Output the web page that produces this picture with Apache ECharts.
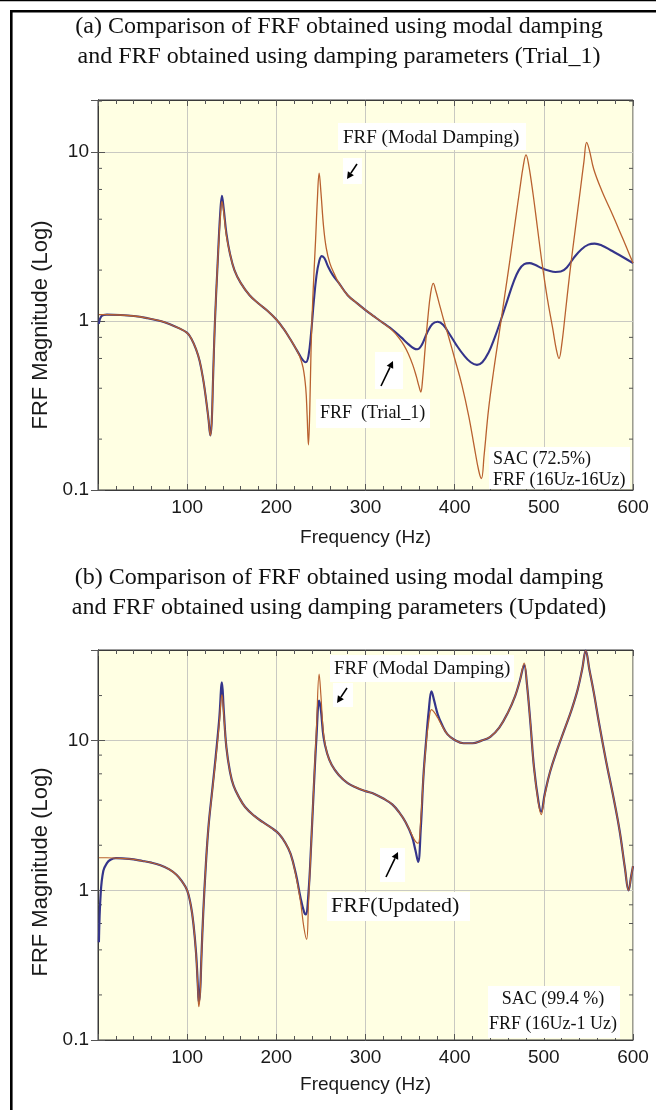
<!DOCTYPE html>
<html>
<head>
<meta charset="utf-8">
<title>FRF comparison</title>
<script src="https://cdn.jsdelivr.net/npm/echarts@6/dist/echarts.min.js"></script>
<style>
  html, body { margin: 0; padding: 0; background: #ffffff; }
  #chart { width: 656px; height: 1110px; }
</style>
</head>
<body>
<div id="chart"></div>
<script>
// ---- Data: FRF magnitude vs frequency (Hz) ----
const xTicks = [100, 200, 300, 400, 500, 600];
const yMinorTicksA = [0.2, 0.4, 0.6, 0.8, 2, 4, 6, 8, 20];
const yMinorTicksB = [0.2, 0.4, 0.6, 0.8, 2, 4, 6, 8, 20];

// (a) FRF with modal damping
const modalA = [
  [1,1.09],[10,1.09],[25,1.085],[40,1.07],[55,1.04],[70,1.0],[80,0.96],[90,0.91],[100,0.85],[105,0.78],
  [110,0.68],[114,0.58],[118,0.45],[121,0.35],[124,0.26],[126,0.21],[127.5,0.25],[129,0.45],[131,0.95],[134,2.1],
  [137,4.0],[139,5.1],[141,4.4],[144,3.2],[148,2.5],[153,2.0],[160,1.68],[170,1.42],[180,1.27],[190,1.15],
  [200,1.02],[208,0.9],[215,0.79],[221,0.7],[226,0.62],[230,0.53],[233,0.4],[234.5,0.28],[236,0.185],[237.5,0.3],
  [239,0.7],[241,1.4],[244,3.0],[246,5.2],[248,7.5],[250,5.8],[253,3.6],[256,2.7],[260,2.2],[265,1.9],
  [270,1.68],[280,1.42],[290,1.28],[300,1.16],[310,1.06],[320,0.97],[330,0.88],[337,0.8],[343,0.72],[348,0.64],
  [353,0.55],[357,0.47],[360,0.41],[362,0.38],[364,0.45],[367,0.7],[370,1.05],[373,1.45],[376,1.67],[379,1.5],
  [383,1.25],[388,1.0],[394,0.78],[400,0.6],[408,0.42],[416,0.27],[422,0.18],[427,0.13],[430,0.117],[433,0.16],
  [438,0.3],[444,0.52],[450,0.85],[456,1.4],[462,2.3],[468,3.9],[473,6.0],[477,8.3],[480,9.6],[483,8.4],
  [488,5.6],[493,3.5],[498,2.2],[504,1.35],[510,0.9],[514,0.68],[517,0.6],[520,0.72],[524,1.1],[529,1.9],
  [535,3.4],[541,6.0],[545,8.8],[548,11.4],[551,10.3],[556,7.9],[565,5.9],[575,4.5],[585,3.4],[593,2.7],
  [600,2.2]
];

// (a) FRF with damping parameters, Trial_1
const trialA = [
  [1,0.96],[4,1.07],[10,1.09],[25,1.085],[40,1.07],[55,1.04],[70,1.0],[80,0.96],[90,0.91],[100,0.85],
  [105,0.78],[110,0.68],[114,0.58],[118,0.45],[121,0.35],[124,0.26],[126,0.21],[127.5,0.25],[129,0.45],[131,0.95],
  [134,2.1],[137,4.3],[139,5.5],[141,4.6],[144,3.3],[148,2.5],[153,2.0],[160,1.68],[170,1.42],[180,1.27],
  [190,1.15],[200,1.02],[208,0.9],[215,0.79],[221,0.7],[226,0.63],[230,0.585],[233,0.57],[236,0.62],[239,0.85],
  [242,1.3],[245,1.85],[248,2.25],[251,2.42],[254,2.35],[258,2.1],[263,1.88],[270,1.68],[280,1.42],[290,1.28],
  [300,1.16],[310,1.06],[320,0.97],[330,0.89],[340,0.8],[348,0.73],[354,0.69],[358,0.68],[363,0.72],[369,0.85],
  [375,0.96],[381,0.99],[387,0.95],[394,0.84],[402,0.72],[410,0.63],[418,0.57],[425,0.55],[431,0.57],[438,0.65],
  [445,0.8],[452,1.02],[459,1.32],[466,1.7],[472,2.0],[478,2.17],[484,2.2],[490,2.15],[498,2.05],[506,1.98],
  [513,1.95],[519,1.96],[526,2.08],[534,2.38],[542,2.65],[550,2.83],[557,2.87],[565,2.8],[575,2.62],[588,2.4],
  [600,2.2]
];

// (b) FRF with modal damping
const modalB = [
  [1,1.65],[10,1.65],[20,1.64],[35,1.62],[50,1.57],[60,1.53],[70,1.47],[80,1.38],[88,1.27],[94,1.15],
  [100,1.0],[104,0.8],[107,0.6],[110,0.37],[112,0.22],[113,0.167],[114.5,0.2],[116,0.35],[118,0.7],[121,1.5],
  [124,2.7],[128,4.5],[132,7.5],[136,13],[139,20.3],[141,15],[144,9],[148,6.2],[152,5.0],[158,4.2],
  [165,3.6],[175,3.15],[185,2.85],[195,2.6],[203,2.38],[210,2.08],[216,1.75],[222,1.25],[227,0.85],[231,0.56],
  [234,0.47],[236,0.8],[239,2.0],[242,5.0],[245,12],[248,27.8],[250,20],[253,11],[257,8.2],[262,6.9],
  [270,5.9],[280,5.2],[290,4.85],[300,4.6],[310,4.4],[320,4.1],[330,3.75],[338,3.3],[345,2.85],[352,2.35],
  [356,2.12],[359,2.06],[362,3.0],[365,5.8],[368,9.5],[371,13.5],[374,16.1],[377,15.5],[381,14.2],[386,12.5],
  [392,11],[400,10.1],[410,9.6],[420,9.6],[430,10.0],[440,10.6],[450,12.2],[460,15.5],[468,20],[473,25],
  [478,33],[481,24],[485,13],[489,6.5],[494,3.8],[497,3.2],[501,4.3],[507,6.2],[515,8.7],[523,11.8],
  [531,16],[538,22],[543,30],[547,40],[551,30],[556,21],[562,13],[570,7.2],[578,4.2],[585,2.5],
  [591,1.4],[595,1.0],[598,1.25],[600,1.45]
];

// (b) FRF with damping parameters, Updated
const updatedB = [
  [1,0.45],[3,0.95],[6,1.35],[10,1.52],[14,1.6],[20,1.64],[35,1.62],[50,1.57],[60,1.53],[70,1.47],
  [80,1.38],[88,1.27],[94,1.15],[100,1.0],[104,0.8],[107,0.6],[110,0.38],[112,0.23],[113,0.18],[114.5,0.21],
  [116,0.36],[118,0.7],[121,1.5],[124,2.7],[128,4.6],[132,7.8],[136,14],[139,24.5],[141,16],[144,9],
  [148,6.2],[152,5.0],[158,4.2],[165,3.6],[175,3.15],[185,2.85],[195,2.6],[203,2.38],[210,2.08],[216,1.75],
  [222,1.28],[227,0.9],[231,0.72],[233,0.69],[236,0.95],[239,2.0],[242,4.8],[245,10.5],[248,18.5],[250,16],
  [253,10.5],[257,8.2],[262,6.9],[270,5.9],[280,5.2],[290,4.85],[300,4.6],[310,4.4],[320,4.1],[330,3.75],
  [338,3.3],[345,2.85],[352,2.3],[356,1.85],[359,1.55],[362,2.6],[365,5.8],[368,10],[371,16],[374,21.3],
  [377,18.5],[381,15],[386,12.7],[392,11],[400,10.1],[410,9.6],[420,9.6],[430,10.0],[440,10.6],[450,12.2],
  [460,15.5],[468,20],[473,25],[478,32],[481,24],[485,13],[489,6.6],[494,3.9],[497,3.35],[501,4.4],
  [507,6.2],[515,8.7],[523,11.8],[531,16],[538,22],[543,30],[547,40],[551,30],[556,21],[562,13],
  [570,7.2],[578,4.2],[585,2.5],[591,1.4],[595,1.0],[598,1.25],[600,1.45]
];

// ---- Styling ----
const SANS = 'Liberation Sans, Arial, sans-serif';
const SERIF = 'Liberation Serif, Times New Roman, serif';
const PLOT_BG = '#FFFFE3';
const BROWN = '#B9612F';
const NAVY = '#35358A';
const GRID_LINE = '#C9C9C2';

const chart = echarts.init(document.getElementById('chart'), null, { renderer: 'canvas' });

function bottomX(grid, gap) {
  return {
    gridIndex: grid, type: 'value', min: 0, max: 600, interval: 100, position: 'bottom',
    axisLine: { show: true, lineStyle: { color: '#3a3a3a', width: 1 } },
    axisTick: { show: true, inside: true, length: 6, lineStyle: { color: '#555' } },
    minorTick: { show: true, splitNumber: 5, length: 4, lineStyle: { color: '#555' } },
    splitLine: { show: true, lineStyle: { color: GRID_LINE, width: 1 } },
    axisLabel: {
      showMinLabel: false, margin: 8, color: '#1a1a1a', fontFamily: SANS, fontSize: 19,
      formatter: v => (xTicks.indexOf(v) >= 0 ? String(v) : '')
    },
    name: 'Frequency (Hz)', nameLocation: 'middle', nameGap: gap,
    nameTextStyle: { fontFamily: SANS, fontSize: 19, color: '#1a1a1a' }
  };
}
function topX(grid) {
  return {
    gridIndex: grid, type: 'value', min: 0, max: 600, interval: 100, position: 'top',
    axisLine: { show: true, lineStyle: { color: '#3a3a3a', width: 1 } },
    axisTick: { show: true, inside: true, length: 6, lineStyle: { color: '#555' } },
    minorTick: { show: true, splitNumber: 5, length: 4, lineStyle: { color: '#555' } },
    splitLine: { show: false }, axisLabel: { show: false }
  };
}
function leftY(grid, max, shift) {
  return {
    gridIndex: grid, type: 'log', logBase: 10, min: 0.1, max: max, position: 'left',
    axisLine: { show: true, lineStyle: { color: '#3a3a3a', width: 1 } },
    axisTick: { show: true, inside: true, length: 7, lineStyle: { color: '#555' } },
    splitLine: { show: true, lineStyle: { color: GRID_LINE, width: 1 } },
    axisLabel: { showMaxLabel: false, margin: 9, color: '#1a1a1a', fontFamily: SANS, fontSize: 19 },
    name: 'FRF Magnitude (Log)', nameLocation: 'middle', nameRotate: 90, nameGap: 42,
    nameTextStyle: { fontFamily: SANS, fontSize: 22, color: '#1a1a1a', padding: [0, shift, 0, 0] }
  };
}
function rightY(grid, max) {
  return {
    gridIndex: grid, type: 'log', logBase: 10, min: 0.1, max: max, position: 'right',
    axisLine: { show: true, lineStyle: { color: '#3a3a3a', width: 1 } },
    axisTick: { show: true, inside: true, length: 7, lineStyle: { color: '#555' } },
    splitLine: { show: false }, axisLabel: { show: false }
  };
}

// short inward tick marks at 2,4,6,8 x 10^n on both vertical plot edges
function minorYTicks(params, api) {
  const v = api.value(1);
  const l = api.coord([0, v]);
  const r = api.coord([600, v]);
  const st = { stroke: '#555', lineWidth: 1 };
  return {
    type: 'group',
    children: [
      { type: 'line', shape: { x1: l[0], y1: l[1], x2: l[0] + 4, y2: l[1] }, style: st },
      { type: 'line', shape: { x1: r[0] - 4, y1: r[1], x2: r[0], y2: r[1] }, style: st }
    ]
  };
}

function curve(data, xi, yi, color, width, z) {
  return {
    type: 'line', xAxisIndex: xi, yAxisIndex: yi, data: data,
    showSymbol: false, smooth: 0.4, z: z, silent: true,
    lineStyle: { color: color, width: width }
  };
}

// arrow annotation built from a shaft and a triangular head
function arrow(x1, y1, x2, y2) {
  const a = Math.atan2(y2 - y1, x2 - x1);
  const L = 7, W = 3.6;
  const bx = x2 - L * Math.cos(a), by = y2 - L * Math.sin(a);
  return [
    { type: 'line', z: 20, shape: { x1: x1, y1: y1, x2: bx, y2: by }, style: { stroke: '#000', lineWidth: 1.6 } },
    { type: 'polygon', z: 20, shape: { points: [[x2, y2], [bx + W * Math.sin(a), by - W * Math.cos(a)], [bx - W * Math.sin(a), by + W * Math.cos(a)]] }, style: { fill: '#000' } }
  ];
}
function box(x, y, w, h) {
  return { type: 'rect', z: 1, shape: { x: x, y: y, width: w, height: h }, style: { fill: '#ffffff' } };
}
function label(text, x, y, size, align) {
  return {
    type: 'text', z: 20, x: x, y: y,
    style: { text: text, fill: '#111', font: size + 'px ' + SERIF, align: align || 'left', verticalAlign: 'middle' }
  };
}

const titleStyle = { fontFamily: SERIF, fontSize: 24, fontWeight: 'normal', color: '#111', lineHeight: 30 };

const option = {
  animation: false,
  backgroundColor: '#ffffff',
  title: [
    { text: '(a) Comparison of FRF obtained using modal damping\nand FRF obtained using damping parameters (Trial_1)',
      left: 339, top: 12, textAlign: 'center', padding: 0, textStyle: titleStyle },
    { text: '(b) Comparison of FRF obtained using modal damping\nand FRF obtained using damping parameters (Updated)',
      left: 339, top: 563, textAlign: 'center', padding: 0, textStyle: titleStyle }
  ],
  grid: [
    { left: 98, top: 100, width: 535, height: 390, show: true, backgroundColor: PLOT_BG, borderColor: '#3a3a3a', borderWidth: 1 },
    { left: 98, top: 650, width: 535, height: 390, show: true, backgroundColor: PLOT_BG, borderColor: '#3a3a3a', borderWidth: 1 }
  ],
  xAxis: [bottomX(0, 38), topX(0), bottomX(1, 35), topX(1)],
  yAxis: [leftY(0, 20.3, 60), rightY(0, 20.3), leftY(1, 40.3, 54), rightY(1, 40.3)],
  series: [
    { type: 'custom', xAxisIndex: 0, yAxisIndex: 0, renderItem: minorYTicks, data: yMinorTicksA.map(v => [0, v]), z: 1, silent: true },
    { type: 'custom', xAxisIndex: 2, yAxisIndex: 2, renderItem: minorYTicks, data: yMinorTicksB.map(v => [0, v]), z: 1, silent: true },
    curve(trialA, 0, 0, NAVY, 2.1, 3),
    curve(modalA, 0, 0, BROWN, 1.3, 4),
    curve(updatedB, 2, 2, NAVY, 2.2, 3),
    curve(modalB, 2, 2, BROWN, 1.2, 4)
  ],
  graphic: [].concat(
    // page frame
    [
      { type: 'rect', z: 30, shape: { x: 0, y: 0, width: 656, height: 1.3 }, style: { fill: '#000' } },
      { type: 'rect', z: 30, shape: { x: 10, y: 10, width: 646, height: 2.4 }, style: { fill: '#000' } },
      { type: 'rect', z: 30, shape: { x: 10, y: 10, width: 2.6, height: 1100 }, style: { fill: '#000' } }
    ],
    // annotations, panel (a)
    [
      box(338, 123, 188, 27), label('FRF (Modal Damping)', 343, 138, 19),
      box(343, 158, 19, 26),
      box(316, 399, 114, 29), label('FRF  (Trial_1)', 320, 413, 18),
      box(375, 352, 28, 37),
      box(489, 447, 141, 42),
      label('SAC (72.5%)', 493, 459, 18), label('FRF (16Uz-16Uz)', 493, 480, 18)
    ],
    arrow(357, 164, 347, 179),
    arrow(381, 386, 393, 361),
    // annotations, panel (b)
    [
      box(330, 655, 184, 27), label('FRF (Modal Damping)', 334, 669, 19),
      box(333, 683, 20, 24),
      box(327, 892, 143, 29), label('FRF(Updated)', 331, 906, 22),
      box(380, 848, 25, 34),
      box(488, 986, 132, 52),
      label('SAC (99.4 %)', 553, 999, 18, 'center'), label('FRF (16Uz-1 Uz)', 553, 1024, 18, 'center')
    ],
    arrow(347, 688, 337, 703),
    arrow(386, 877, 398, 852)
  )
};

chart.setOption(option);
</script>
</body>
</html>
